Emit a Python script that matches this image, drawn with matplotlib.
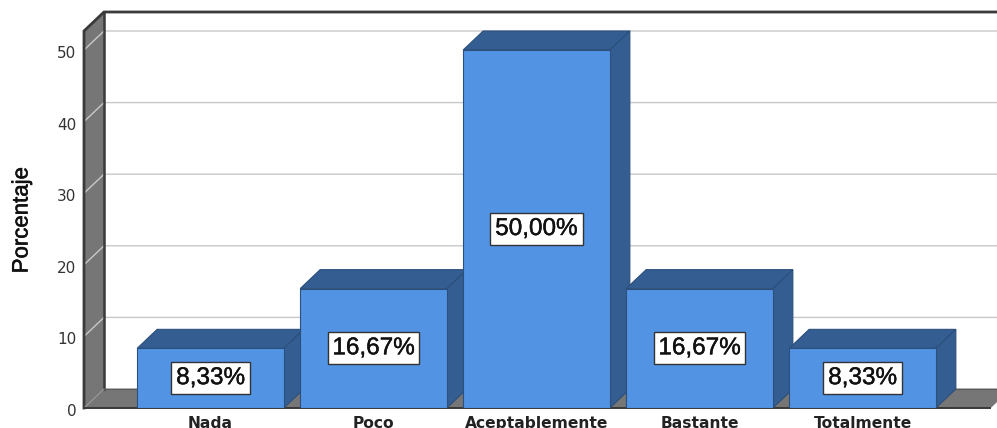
import matplotlib
matplotlib.use("Agg")
import matplotlib.pyplot as plt
import matplotlib.patheffects as pe
from matplotlib.patches import Polygon
from matplotlib.transforms import ScaledTranslation

categories = ["Nada", "Poco", "Aceptablemente", "Bastante", "Totalmente"]
values = [8.33, 16.67, 50.00, 16.67, 8.33]
value_labels = ["8,33%", "16,67%", "50,00%", "16,67%", "8,33%"]
y_ticks = [0, 10, 20, 30, 40, 50]

FRONT = "#5294e3"
SHADE = "#345d91"
EDGE = "#2c4f7c"
GREY = "#767676"
DARK = "#3a3a3a"
GRID = "#c9c9c9"

W, H = 997, 428
# depth of the fake 3d box, in data units
DX = 20 / 163
DY = 19 * 50 / 358
BAR_W = 0.9

fig = plt.figure(figsize=(W / 100, H / 100), dpi=100, facecolor="white")
ax = fig.add_axes([84 / W, (H - 408) / H, (990 - 84) / W, (408 - 31) / H])
x0, x1 = (84 - 210.5) / 163, (990 - 210.5) / 163
y1 = 50 + DY
ax.set_xlim(x0, x1)
ax.set_ylim(0, y1)
for s in ax.spines.values():
    s.set_visible(False)


def face(pts, color, edge=None, lw=0.8, z=2):
    ax.add_patch(Polygon(pts, closed=True, facecolor=color, edgecolor=edge or color,
                         linewidth=lw, clip_on=False, zorder=z, joinstyle="miter"))


# side wall and floor
face([(x0, 0), (x0 + DX, DY), (x0 + DX, y1 + DY), (x0, y1)], GREY, z=1)
face([(x0, 0), (x0 + DX, DY), (x1 + DX, DY), (x1, 0)], GREY, z=1)

# gridlines run on the back wall and fold onto the side wall
for t in y_ticks[1:]:
    ax.plot([x0, x0 + DX, x1 + DX], [t, t + DY, t + DY], color=GRID, lw=1.0,
            clip_on=False, zorder=1.5)

# box outline
ax.plot([x0, x0, x0 + DX, x1 + DX], [0, y1, y1 + DY, y1 + DY], color=DARK, lw=2.0,
        clip_on=False, zorder=1.6, solid_joinstyle="miter")
ax.plot([x0 + DX, x0 + DX], [y1 + DY, DY], color=DARK, lw=1.8, clip_on=False, zorder=1.6)
ax.plot([x0 + DX, x1 + DX], [DY, DY], color="#5a5a5a", lw=0.7, clip_on=False, zorder=1.6)
ax.plot([x0, x0 + DX], [0, DY], color="#9a9a9a", lw=0.8, clip_on=False, zorder=1.6)
ax.plot([x0, x1], [0, 0], color=DARK, lw=1.4, clip_on=False, zorder=1.6)

# bars, left to right so each one covers the side of the previous
stroke = [pe.withStroke(linewidth=0.3, foreground="#111111")]
for i, v in enumerate(values):
    l, r = i - BAR_W / 2, i + BAR_W / 2
    z = 3 + i
    face([(l, v), (l + DX, v + DY), (r + DX, v + DY), (r, v)], SHADE, EDGE, z=z)
    face([(r, 0), (r + DX, DY), (r + DX, v + DY), (r, v)], SHADE, EDGE, z=z)
    ax.bar(i, v, width=BAR_W, color=FRONT, edgecolor=EDGE, linewidth=0.8, zorder=z + 0.1)
    ax.text(i, v / 2, value_labels[i], ha="center", va="center", fontsize=17.5,
            family="Liberation Sans", color="#111111", zorder=20, path_effects=stroke,
            bbox=dict(boxstyle="square,pad=0.2", facecolor="white", edgecolor="#333333", linewidth=1))

ax.set_xticks(range(len(categories)))
ax.set_xticklabels(categories, fontsize=11.2, fontweight="bold", color="#222222")
ax.set_yticks(y_ticks)
ax.set_yticklabels([str(t) for t in y_ticks], fontsize=11, color="#333333")
ax.tick_params(axis="x", length=0, pad=5.5)
ax.tick_params(axis="y", length=0, pad=5.5)
# the y labels sit a little under their gridline in the original
nudge = ScaledTranslation(0, -2 / 100, fig.dpi_scale_trans)
for lab in ax.get_yticklabels():
    lab.set_transform(lab.get_transform() + nudge)

fig.text(22 / W, (H - 220) / H, "Porcentaje", rotation=90, ha="center", va="center",
         fontsize=16, family="Liberation Sans", color="#111111",
         path_effects=[pe.withStroke(linewidth=0.4, foreground="#111111")])

fig.savefig("out.png", dpi=100)
plt.close(fig)
